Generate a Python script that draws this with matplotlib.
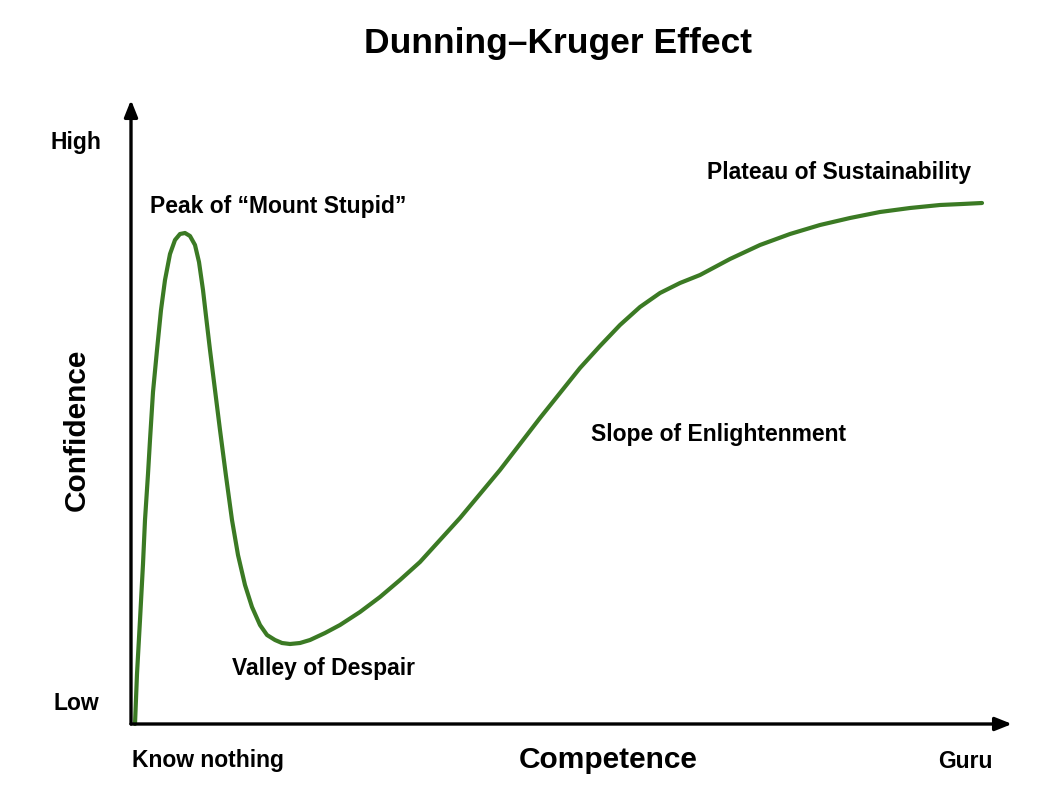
import matplotlib
matplotlib.use("Agg")
import matplotlib.pyplot as plt

plt.rcParams['font.family'] = ['Liberation Sans', 'DejaVu Sans']

competence = [4, 6, 9, 12, 14, 17, 19, 22, 26, 30, 34, 39, 44, 49, 54, 59, 64, 68, 72, 75, 79, 84, 89,
              95, 101, 107, 114, 121, 129, 136, 144, 151, 159, 169, 179, 194, 209, 229, 249, 269, 289,
              309, 329, 349, 369, 389, 409, 429, 449, 469, 489, 509, 529, 549, 569, 599, 629, 659, 689,
              719, 749, 779, 809, 831, 851]
confidence = [0, 50, 104, 160, 204, 250, 284, 332, 374, 414, 444, 470, 484, 490, 491, 488, 479, 462,
              434, 408, 374, 334, 294, 248, 204, 169, 139, 117, 99, 89, 84, 81, 80, 81, 84, 91, 99, 112,
              127, 144, 162, 184, 206, 230, 254, 280, 306, 331, 356, 378, 399, 417, 431, 441, 449, 465,
              479, 490, 499, 506, 512, 516, 519, 520, 521]

W, H = 1048, 808
fig = plt.figure(figsize=(W/100, H/100), dpi=100)
ax = fig.add_axes([131/W, (H-724)/H, 881/W, 624/H])
ax.set_xlim(0, 881)
ax.set_ylim(0, 624)
ax.axis('off')
ax.plot(competence, confidence, color='#3b7a24', lw=3.0, solid_capstyle='round',
        solid_joinstyle='round', clip_on=False)
ap = dict(arrowstyle='-|>,head_length=1.0,head_width=0.4', color='black', lw=2.4, shrinkA=0, shrinkB=0)
ax.annotate('', xy=(881, 0), xytext=(0, 0), arrowprops=ap, annotation_clip=False)
ax.annotate('', xy=(0, 624), xytext=(0, 0), arrowprops=ap, annotation_clip=False)

def t(px, py, s, size, **kw):
    fig.text(px/W, 1-py/H, s, fontsize=size, fontweight='bold', ha='center', va='center', **kw)

t(558, 44, 'Dunning–Kruger Effect', 25.5)
t(76, 143, 'High', 16.5)
t(76, 703, 'Low', 16.5)
t(208, 761, 'Know nothing', 16.5)
t(965, 761, 'Guru', 16.5)
t(608, 760, 'Competence', 21.5)
t(77, 430, 'Confidence', 21.5, rotation=90)
t(278, 206, 'Peak of “Mount Stupid”', 16.5)
t(323, 668, 'Valley of Despair', 16.5)
t(719, 435, 'Slope of Enlightenment', 16.5)
t(839, 172, 'Plateau of Sustainability', 16.5)

fig.savefig('out.png', dpi=100, facecolor='white')
